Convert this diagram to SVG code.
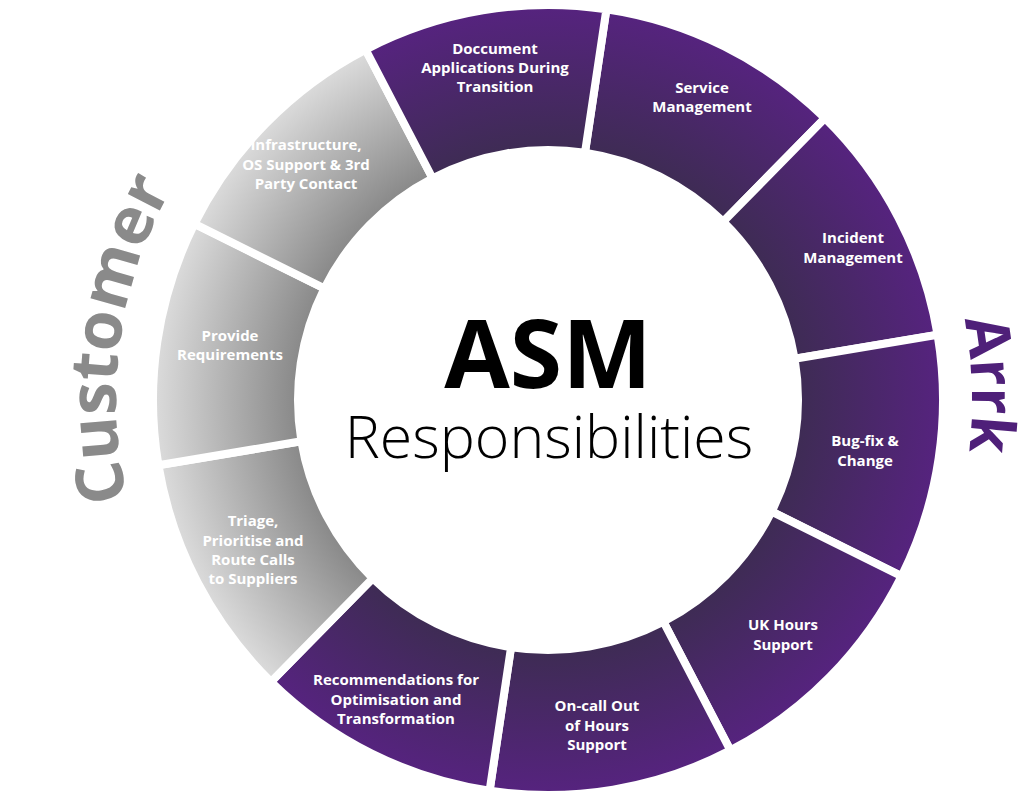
<svg xmlns="http://www.w3.org/2000/svg" width="1024" height="796" viewBox="0 0 1024 796">
<defs>
<radialGradient id="pur" gradientUnits="userSpaceOnUse" cx="548" cy="400" r="395">
<stop offset="0.62" stop-color="#3d2c52"/><stop offset="1" stop-color="#56237f"/></radialGradient>
<radialGradient id="gry" gradientUnits="userSpaceOnUse" cx="548" cy="400" r="395">
<stop offset="0.62" stop-color="#858585"/><stop offset="1" stop-color="#dcdcdc"/></radialGradient>
<path id="cpath" d="M345.2,781.4 A432,432 0 0 1 458.2,-22.5"/>
<path id="apath" d="M907.6,175.3 A424,424 0 0 1 922.3,599.1"/>
</defs>
<style>
.p{fill:url(#pur);stroke:#fff;stroke-width:8;stroke-linejoin:miter}
.g{fill:url(#gry);stroke:#fff;stroke-width:8}
.t{font-family:"Open Sans",sans-serif;font-weight:700;font-size:15px;fill:#fff;text-anchor:middle}
</style>
<rect width="1024" height="796" fill="#fff"/>
<g id="segments">
<path id="service" class="p" d="M606.4,9.3 A395,395 0 0 1 824.9,118.2 L723.2,221.7 A250,250 0 0 0 584.95,152.75Z"/>
<path id="incident" class="p" d="M824.9,118.2 A395,395 0 0 1 937.6,334.8 L794.6,358.75 A250,250 0 0 0 723.2,221.7Z"/>
<path id="bugfix" class="p" d="M937.6,334.8 A395,395 0 0 1 901.5,576.2 L771.7,511.55 A250,250 0 0 0 794.6,358.75Z"/>
<path id="ukhours" class="p" d="M901.5,576.2 A395,395 0 0 1 730.4,750.4 L663.4,621.75 A250,250 0 0 0 771.7,511.55Z"/>
<path id="oncall" class="p" d="M730.4,750.4 A395,395 0 0 1 489.6,790.7 L511.05,647.25 A250,250 0 0 0 663.4,621.75Z"/>
<path id="recommend" class="p" d="M489.6,790.7 A395,395 0 0 1 271.1,681.8 L372.8,578.3 A250,250 0 0 0 511.05,647.25Z"/>
<path id="triage" class="g" d="M271.1,681.8 A395,395 0 0 1 158.4,465.2 L301.4,441.25 A250,250 0 0 0 372.8,578.3Z"/>
<path id="provide" class="g" d="M158.4,465.2 A395,395 0 0 1 194.5,223.8 L324.3,288.45 A250,250 0 0 0 301.4,441.25Z"/>
<path id="infra" class="g" d="M194.5,223.8 A395,395 0 0 1 365.6,49.6 L432.6,178.25 A250,250 0 0 0 324.3,288.45Z"/>
<path id="doccument" class="p" d="M365.6,49.6 A395,395 0 0 1 606.4,9.3 L584.95,152.75 A250,250 0 0 0 432.6,178.25Z"/>
</g>
<g id="labels">
<text class="t"><tspan x="495" y="54">Doccument</tspan><tspan x="495" y="73">Applications During</tspan><tspan x="495" y="92">Transition</tspan></text>
<text class="t"><tspan x="702" y="93">Service</tspan><tspan x="702" y="112">Management</tspan></text>
<text class="t"><tspan x="853" y="243">Incident</tspan><tspan x="853" y="263">Management</tspan></text>
<text class="t"><tspan x="865" y="446">Bug-fix &amp;</tspan><tspan x="865" y="466">Change</tspan></text>
<text class="t"><tspan x="783" y="630">UK Hours</tspan><tspan x="783" y="650">Support</tspan></text>
<text class="t"><tspan x="597" y="711">On-call Out</tspan><tspan x="597" y="731">of Hours</tspan><tspan x="597" y="750">Support</tspan></text>
<text class="t"><tspan x="396" y="685">Recommendations for</tspan><tspan x="396" y="705">Optimisation and</tspan><tspan x="396" y="724">Transformation</tspan></text>
<text class="t"><tspan x="253" y="526">Triage,</tspan><tspan x="253" y="546">Prioritise and</tspan><tspan x="253" y="565">Route Calls</tspan><tspan x="253" y="584">to Suppliers</tspan></text>
<text class="t"><tspan x="230" y="341">Provide</tspan><tspan x="230" y="360">Requirements</tspan></text>
<text class="t"><tspan x="306" y="150">Infrastructure,</tspan><tspan x="306" y="170">OS Support &amp; 3rd</tspan><tspan x="306" y="189">Party Contact</tspan></text>
</g>
<g id="center">
<text x="548" y="388" font-family="Open Sans, sans-serif" font-weight="700" font-size="95" fill="#000" text-anchor="middle">ASM</text>
<text x="549" y="458" font-family="Open Sans, sans-serif" font-weight="300" font-size="59" fill="#000" text-anchor="middle">Responsibilities</text>
</g>
<g id="sides">
<text font-family="Open Sans, sans-serif" font-weight="700" font-size="66" fill="#8a8a8a" text-anchor="middle"><textPath href="#cpath" startOffset="50%">Customer</textPath></text>
<text font-family="Open Sans, sans-serif" font-weight="700" font-size="60" fill="#4f2079" text-anchor="middle"><textPath href="#apath" startOffset="50%">Arrk</textPath></text>
</g>
</svg>
